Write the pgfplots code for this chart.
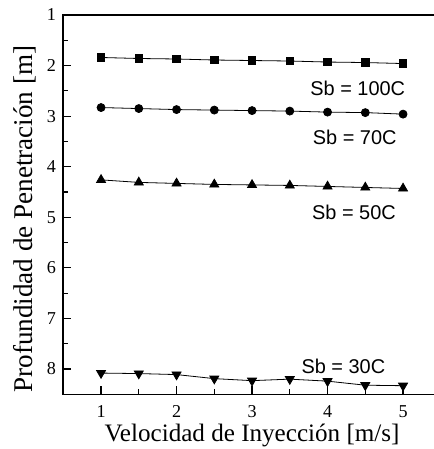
\documentclass[border=0pt]{standalone}
\usepackage{fontspec}
\setmainfont{Liberation Serif}
\newfontfamily\arial{Liberation Sans}
\usepackage{pgfplots}
\pgfplotsset{compat=1.18}
\begin{document}
\begin{tikzpicture}
\begin{axis}[
  scale only axis, width=377.5bp, height=379.3bp,
  xmin=0.5, xmax=5.5, ymin=1, ymax=8.5, y dir=reverse,
  xtick={1,2,3,4,5}, ytick={1,2,3,4,5,6,7,8},
  minor xtick={1.5,2.5,3.5,4.5}, minor ytick={1.5,2.5,3.5,4.5,5.5,6.5,7.5},
  xtick pos=bottom, ytick pos=left,
  tick align=inside,
  major tick length=8bp, minor tick length=5bp,
  axis line style={line width=1.6bp},
  every tick/.style={line width=1.2bp, black},
  /pgf/number format/assume math mode=true,
  xticklabel={\fontsize{18.2}{18.2}\selectfont\pgfmathprintnumber{\tick}},
  yticklabel={\fontsize{18.2}{18.2}\selectfont\pgfmathprintnumber{\tick}},
  yticklabel style={xshift=-3.8bp},
  xticklabel style={yshift=-8bp},
  xlabel={Velocidad de Inyección [m/s]},
  ylabel={Profundidad de Penetración [m]},
  xlabel style={font=\fontsize{25.2}{25.2}\selectfont, at={(axis description cs:0.5,-0.125)}, anchor=base},
  ylabel style={font=\fontsize{27.2}{27.2}\selectfont, at={(axis description cs:-0.0829,0.462)}, anchor=base},
  every axis plot/.append style={black, line width=0.8bp, mark options={solid, fill=black}},
]
\addplot[mark=square*, mark size=3.8bp] coordinates {
 (1,1.84) (1.5,1.86) (2,1.87) (2.5,1.89) (3,1.90) (3.5,1.91) (4,1.93) (4.5,1.94) (5,1.96)};
\addplot[mark=*, mark size=4bp] coordinates {
 (1,2.83) (1.5,2.85) (2,2.87) (2.5,2.88) (3,2.89) (3.5,2.90) (4,2.92) (4.5,2.93) (5,2.96)};
\addplot[mark=triangle*, mark size=5.2bp] coordinates {
 (1,4.26) (1.5,4.31) (2,4.33) (2.5,4.35) (3,4.36) (3.5,4.37) (4,4.39) (4.5,4.41) (5,4.43)};
\addplot[mark=triangle*, mark size=5.2bp, mark options={rotate=180}] coordinates {
 (1,8.08) (1.5,8.09) (2,8.11) (2.5,8.19) (3,8.23) (3.5,8.20) (4,8.24) (4.5,8.32) (5,8.33)};
\node[font=\arial\fontsize{20}{20}\selectfont] at (axis cs:4.40,2.45) {Sb = 100C};
\node[font=\arial\fontsize{20}{20}\selectfont] at (axis cs:4.36,3.42) {Sb = 70C};
\node[font=\arial\fontsize{20}{20}\selectfont] at (axis cs:4.35,4.91) {Sb = 50C};
\node[font=\arial\fontsize{20}{20}\selectfont] at (axis cs:4.21,7.94) {Sb = 30C};
\end{axis}
\pgfresetboundingbox
\useasboundingbox (-63.3bp,-54.7bp) rectangle (370.7bp,394.3bp);
\end{tikzpicture}
\end{document}
